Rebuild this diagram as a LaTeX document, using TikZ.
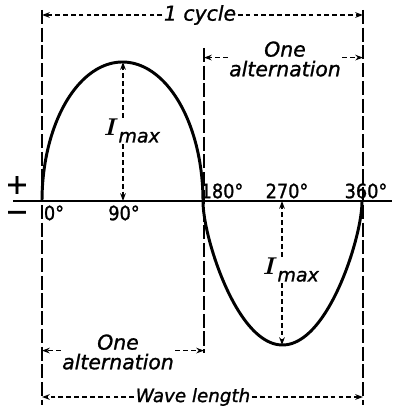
\documentclass[tikz,border=0pt]{standalone}
\usepackage{fontspec}
\setmainfont{DejaVu Sans}[FakeBold=1.2]
\newfontfamily\degfont{DejaVu Sans Condensed}[FakeBold=1.2]
\usetikzlibrary{arrows.meta}

\begin{document}
\begin{tikzpicture}[x=0.025cm, y=-0.025cm, >={Stealth[length=5.5pt,width=4pt]},
  every node/.style={font=\fontsize{14.5}{15}\selectfont\itshape, inner sep=1pt}]
  \tikzstyle{guide}=[line width=1.3pt, dash pattern=on 10pt off 2.6pt]
  \tikzstyle{dim}=[line width=1pt, dash pattern=on 3.4pt off 2.2pt]
  \tikzstyle{deg}=[font=\fontsize{14}{14}\degfont]
  \tikzstyle{lbl}=[align=center, font=\fontsize{14.5}{14}\selectfont\itshape]
  \tikzstyle{imx}=[font=\fontsize{17}{17}\selectfont\itshape]
  \tikzstyle{sgn}=[font=\fontsize{20}{20}\selectfont]
  \useasboundingbox (0,0) rectangle (395,407);

  % guide lines and key points
  \coordinate (gl0) at (42,10);   \coordinate (gl1) at (42,405);
  \coordinate (gm0) at (204,48);  \coordinate (gm1) at (204,353);
  \coordinate (gr0) at (363,10);  \coordinate (gr1) at (363,405);
  \coordinate (ax0) at (13,201);  \coordinate (ax1) at (392,201);
  \coordinate (pk) at (123,62);   \coordinate (c90) at (123,201);
  \coordinate (tr) at (282,345);  \coordinate (c270) at (282,201);
  \draw[guide] (gl0) -- (gl1);
  \draw[guide] (gm0) -- (gm1);
  \draw[guide] (gr0) -- (gr1);

  % axis and wave
  \draw[line width=1.5pt] (ax0) -- (ax1);
  \draw[line width=2.1pt, line join=round] plot[domain=0:180, samples=90] ({122.5-80.5*cos(\x)}, {201-139*sin(\x)})
    -- plot[domain=0:180, samples=90] ({282.5-79.5*cos(\x)}, {201+72*(sin(\x)+sin(\x)*sin(\x))});

  % labels
  \node (cyc) at (200,15) {1 cycle};
  \node[lbl] (altT) at (285,59) {One\\alternation};
  \node[lbl] (altB) at (118,352) {One\\alternation};
  \node[font=\fontsize{13}{13}\selectfont\itshape] (wl) at (193,397) {Wave length};
  \node[imx] (imT) at (132,131) {{\boldmath\(I\)}\raisebox{-0.5ex}{\fontsize{13.5}{13}\selectfont max}};
  \node[imx] (imB) at (291,270) {{\boldmath\(I\)}\raisebox{-0.5ex}{\fontsize{13.5}{13}\selectfont max}};
  \node[deg] (d0) at (54,213) {0°};
  \node[deg] (d90) at (124,213) {90°};
  \node[deg] (d180) at (222,191) {180°};
  \node[deg] (d270) at (287,191) {270°};
  \node[deg] (d360) at (366,191) {360°};
  \node[sgn] (plus) at (17,185) {+};
  \node[sgn] (minus) at (17,216) {−};

  % dimension arrows
  \draw[dim,->] (cyc.west) -- (cyc.west -| gl0);
  \draw[dim,->] (cyc.east) -- (cyc.east -| gr0);
  \draw[dim,->] ([yshift=1pt]altT.west) -- ([yshift=1pt]altT.west -| gm0);
  \draw[dim,->] ([yshift=1pt]altT.east) -- ([yshift=1pt]altT.east -| gr0);
  \draw[dim,->] ([yshift=1pt]altB.west) -- ([yshift=1pt]altB.west -| gl0);
  \draw[dim,->] ([yshift=1pt]altB.east) -- ([yshift=1pt]altB.east -| gm0);
  \draw[dim,->] (wl.west) -- (wl.west -| gl0);
  \draw[dim,->] (wl.east) -- (wl.east -| gr0);
  \draw[dim,->] (imT.north -| pk) -- (pk);
  \draw[dim,->] (imT.south -| pk) -- (c90);
  \draw[dim,->] (imB.north -| tr) -- (c270);
  \draw[dim,->] (imB.south -| tr) -- (tr);
\end{tikzpicture}
\end{document}
